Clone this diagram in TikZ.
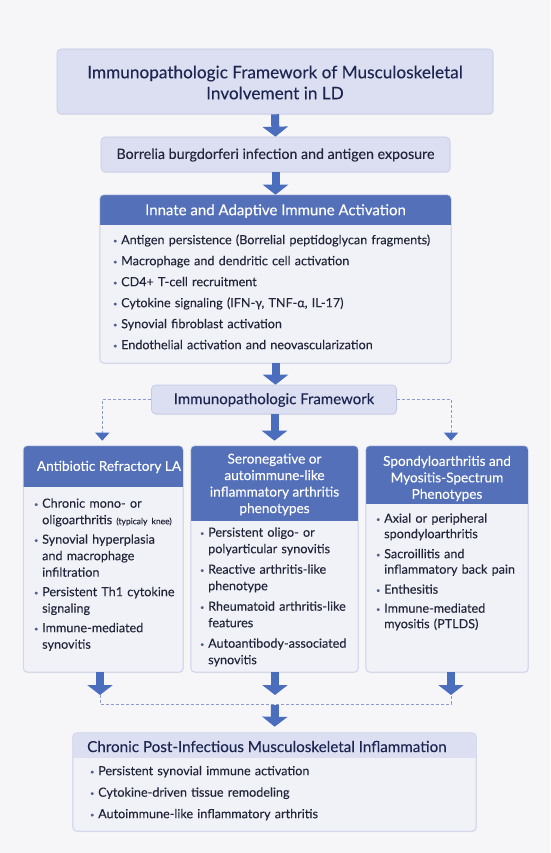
\documentclass[tikz,border=0pt]{standalone}
\usepackage{fontspec}
\setmainfont{Lato}[FakeBold=0.15]
\usetikzlibrary{arrows.meta,shadows}
\definecolor{bg}{HTML}{F6F6F9}
\definecolor{lav}{HTML}{DCDFF2}
\definecolor{lavb}{HTML}{C4C9E5}
\definecolor{hdr}{HTML}{5470B9}
\definecolor{bodyf}{HTML}{F1F2F8}
\definecolor{bodyb}{HTML}{D2D6EA}
\definecolor{arr}{HTML}{4A6DBE}
\definecolor{dashc}{HTML}{8C9BCB}
\definecolor{ttl}{HTML}{1C2650}
\definecolor{txt}{HTML}{22263A}
\definecolor{bul}{HTML}{4F5F90}
\newcommand\bmark{\makebox[8pt][l]{\raisebox{1pt}{\fontsize{7}{7}\selectfont\textcolor{bul}{•}}}}
\newcommand\bitem[1]{\par\noindent\strut\bmark#1}
\newcommand\bitemm[1]{\par\noindent\strut\bmark\begin{tabular}[t]{@{}l@{}}#1\end{tabular}}
\begin{document}
\begin{tikzpicture}[x=1pt,y=-1pt,
  lavbox/.style={draw=lavb, fill=lav, line width=0.6pt, rounded corners=4pt, inner sep=0pt,
     drop shadow={opacity=0.12, shadow xshift=0.6pt, shadow yshift=-1pt}},
  bodybox/.style={draw=bodyb, fill=bodyf, line width=0.6pt, rounded corners=4pt, inner sep=0pt,
     drop shadow={opacity=0.12, shadow xshift=0.6pt, shadow yshift=-1pt}},
  bigarrow/.style={draw=arr, line width=8pt, -{Triangle[width=25pt,length=10pt]}},
  dashlink/.style={draw=dashc, line width=1pt, dash pattern=on 3pt off 2pt},
  dashtip/.style={-{Triangle[width=14pt,length=8pt,color=arr,fill=arr]}},
  hdrtext/.style={text=white, align=center, inner sep=0pt, font=\fontsize{13.6}{16.5}\selectfont},
  listnode/.style={anchor=north west, inner sep=0pt, text width=#1, align=left, text=txt,
     font=\fontsize{12.6}{16.5}\selectfont},
]
\useasboundingbox (0,0) rectangle (550,853);
\fill[bg] (0,0) rectangle (550,853);

% title
\node[lavbox, minimum width=436pt, minimum height=65pt] (title) at (275,81.5) {};
\node[align=center, text=ttl, inner sep=0pt, font=\fontsize{17.2}{21}\selectfont] (titlet) at (275,82.5)
  {Immunopathologic Framework of Musculoskeletal\\Involvement in LD};

% box 2
\node[lavbox, minimum width=349pt, minimum height=35pt] (bb) at (275.5,154.5) {};
\node[text=txt, inner sep=0pt, font=\fontsize{14.2}{16}\selectfont] (bbt) at (275.5,155)
  {Borrelia burgdorferi infection and antigen exposure};

% box 3
\node[bodybox, minimum width=351pt, minimum height=168pt] (ia) at (275.5,279) {};
\begin{scope}
\clip[rounded corners=4pt] (ia.north west) rectangle (ia.south east);
\fill[hdr] (ia.north west) rectangle ([yshift=-30pt]ia.north east);
\end{scope}
\draw[bodyb, line width=0.6pt, rounded corners=4pt] (ia.north west) rectangle (ia.south east);
\node[hdrtext, font=\fontsize{15}{16}\selectfont] (iah) at (275.5,211) {Innate and Adaptive Immune Activation};
\node[listnode=340pt] (ial) at (113,223) {\setlength\parskip{4.5pt}%
\bitem{Antigen persistence (Borrelial peptidoglycan fragments)}
\bitem{Macrophage and dendritic cell activation}
\bitem{CD4+ T-cell recruitment}
\bitem{Cytokine signaling (IFN-γ, TNF-α, IL-17)}
\bitem{Synovial fibroblast activation}
\bitem{Endothelial activation and neovascularization}};

% immunopathologic framework box
\node[lavbox, minimum width=245pt, minimum height=29pt] (if) at (274,399.5) {};
\node[text=ttl, inner sep=0pt, font=\fontsize{15}{16}\selectfont] (ift) at (274,400) {Immunopathologic Framework};

% three phenotype boxes
\node[bodybox, minimum width=159.5pt, minimum height=226pt] (lb) at (103.25,559) {};
\node[bodybox, minimum width=167pt, minimum height=226pt] (mb) at (274.5,559) {};
\node[bodybox, minimum width=162pt, minimum height=226pt] (rb) at (447,559) {};
\foreach \b/\h in {lb/41, mb/75, rb/58}{
  \begin{scope}
  \clip[rounded corners=4pt] (\b.north west) rectangle (\b.south east);
  \fill[hdr] (\b.north west) rectangle ([yshift=-\h pt]\b.north east);
  \end{scope}
  \draw[bodyb, line width=0.6pt, rounded corners=4pt] (\b.north west) rectangle (\b.south east);
}
\node[hdrtext] (lbh) at (109,467) {Antibiotic Refractory LA};
\node[hdrtext] (mbh) at (274.5,484.5) {Seronegative or\\autoimmune-like\\inflammatory arthritis\\phenotypes};
\node[hdrtext] (rbh) at (447,478.5) {Spondyloarthritis and\\Myositis-Spectrum\\Phenotypes};

\node[listnode=160pt] (lbl) at (34,489) {\setlength\parskip{2pt}%
\bitemm{Chronic mono- or\\oligoarthritis {\fontsize{8.5}{8}\selectfont (typicaly knee)}}
\bitemm{Synovial hyperplasia\\and macrophage\\infiltration}
\bitemm{Persistent Th1 cytokine\\signaling}
\bitemm{Immune-mediated\\synovitis}};

\node[listnode=165pt] (mbl) at (200,517) {\setlength\parskip{3pt}%
\bitemm{Persistent oligo- or\\polyarticular synovitis}
\bitemm{Reactive arthritis-like\\phenotype}
\bitemm{Rheumatoid arthritis-like\\features}
\bitemm{Autoantibody-associated\\synovitis}};

\node[listnode=165pt, font=\fontsize{12.6}{15.5}\selectfont] (rbl) at (376,503.5) {\setlength\parskip{3.5pt}%
\bitemm{Axial or peripheral\\spondyloarthritis}
\bitemm{Sacroillitis and\\inflammatory back pain}
\bitem{Enthesitis}
\bitemm{Immune-mediated\\myositis (PTLDS)}};

% final box
\node[bodybox, minimum width=403pt, minimum height=98pt] (fb) at (274.5,782) {};
\begin{scope}
\clip[rounded corners=4pt] (fb.north west) rectangle (fb.south east);
\fill[lav] (fb.north west) rectangle ([yshift=-25pt]fb.north east);
\end{scope}
\draw[bodyb, line width=0.6pt, rounded corners=4pt] (fb.north west) rectangle (fb.south east);
\node[anchor=west, text=ttl, inner sep=0pt, font=\fontsize{15.2}{16}\selectfont] (fbh) at (87,746.5)
  {Chronic Post-Infectious Musculoskeletal Inflammation};
\node[listnode=380pt] (fbl) at (90,753.5) {\setlength\parskip{5pt}%
\bitem{Persistent synovial immune activation}
\bitem{Cytokine-driven tissue remodeling}
\bitem{Autoimmune-like inflammatory arthritis}};

% coordinates
\coordinate (dl) at (100,695);
\coordinate (dm) at (275,695);
\coordinate (dr) at (451,695);
\coordinate (jl) at (100,704);
\coordinate (jm) at (275,704);
\coordinate (jr) at (451,704);

% arrows
\draw[bigarrow] (title.south) -- (bb.north);
\draw[bigarrow] (bb.south) -- (ia.north);
\draw[bigarrow] (ia.south) -- (if.north -| ia.south);
\draw[bigarrow, shorten >=5pt] (if.south -| mb.north) -- (mb.north);
\draw[dashlink, dashtip, shorten >=5pt] (if.west) -| ([xshift=-1pt]lb.north);
\draw[dashlink, dashtip, shorten >=5pt] (if.east) -| ([xshift=4pt]rb.north);

\draw[dashlink] (dl) -- (jl) -- (jr) -- (dr);
\draw[bigarrow] (lb.south -| dl) -- (dl);
\draw[bigarrow] (mb.south -| dm) -- (dm);
\draw[bigarrow] (rb.south -| dr) -- (dr);
\draw[bigarrow, shorten >=6pt, shorten <=1pt] (jm) -- (fb.north);
\end{tikzpicture}
\end{document}
